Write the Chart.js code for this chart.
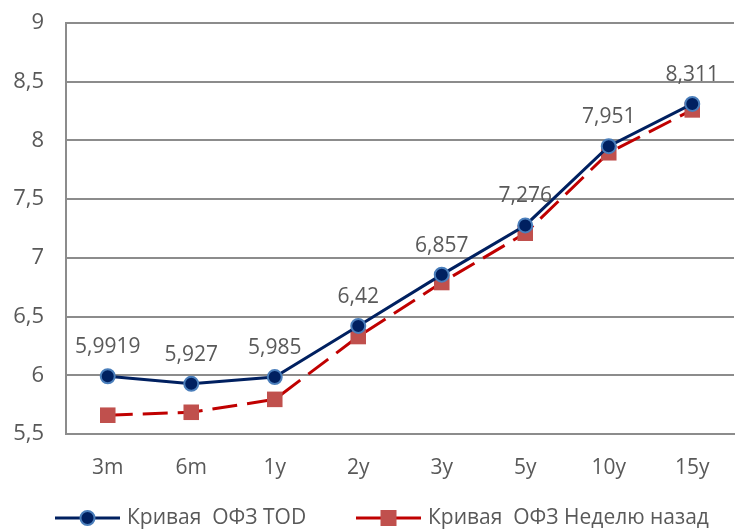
<!DOCTYPE html>
<html>
<head>
<meta charset="utf-8">
<script src="https://cdn.jsdelivr.net/npm/chart.js@4"></script>
<style>
  html, body { margin: 0; padding: 0; background: #fff; }
  #wrap { width: 745px; height: 530px; }
</style>
</head>
<body>
<div id="wrap"><canvas id="curve"></canvas></div>
<script>
const categories = ["3m", "6m", "1y", "2y", "3y", "5y", "10y", "15y"];
const todValues = [5.9919, 5.927, 5.985, 6.42, 6.857, 7.276, 7.951, 8.311];
const weekAgoValues = [5.66, 5.685, 5.795, 6.33, 6.79, 7.21, 7.895, 8.26];
const todLabel = "Кривая  ОФЗ TOD";
const weekAgoLabel = "Кривая  ОФЗ Неделю назад";

const FONT = "'Open Sans', sans-serif";
const TEXT = "#595959";
const GRID = "#8c8c8c";
const NAVY = "#002060";
const RED = "#c00000";

const fmt = (v) => String(v).replace(".", ",");

// value labels above the TOD points
const valueLabels = {
  id: "valueLabels",
  afterDatasetsDraw(chart) {
    const ctx = chart.ctx;
    const meta = chart.getDatasetMeta(0);
    ctx.save();
    ctx.font = "21px " + FONT;
    ctx.fillStyle = TEXT;
    ctx.textAlign = "center";
    ctx.textBaseline = "middle";
    meta.data.forEach((pt, i) => {
      ctx.fillText(fmt(todValues[i]), pt.x, pt.y - 29);
    });
    ctx.restore();
  },
};

// legend drawn by hand: line + marker + text, as in the original
const lineLegend = {
  id: "lineLegend",
  afterDraw(chart) {
    const ctx = chart.ctx;
    const y = 518;
    const items = [
      { x: 55, color: NAVY, text: todLabel, marker: "circle" },
      { x: 356, color: RED, text: weekAgoLabel, marker: "rect" },
    ];
    ctx.save();
    ctx.font = "21px " + FONT;
    ctx.textBaseline = "middle";
    items.forEach((it) => {
      ctx.strokeStyle = it.color;
      ctx.lineWidth = 3;
      ctx.beginPath();
      ctx.moveTo(it.x, y);
      ctx.lineTo(it.x + 65, y);
      ctx.stroke();
      const cx = it.x + 32.5;
      if (it.marker === "circle") {
        ctx.beginPath();
        ctx.arc(cx, y, 7, 0, Math.PI * 2);
        ctx.fillStyle = NAVY;
        ctx.fill();
        ctx.lineWidth = 2;
        ctx.strokeStyle = "#4a7ebb";
        ctx.stroke();
      } else {
        ctx.fillStyle = "#c0504d";
        ctx.fillRect(cx - 8, y - 8, 16, 16);
      }
      ctx.fillStyle = TEXT;
      ctx.fillText(it.text, it.x + 72, y);
    });
    ctx.restore();
  },
};

new Chart(document.getElementById("curve"), {
  type: "line",
  data: {
    labels: categories,
    datasets: [
      {
        label: todLabel,
        data: todValues,
        borderColor: NAVY,
        borderWidth: 3,
        pointStyle: "circle",
        pointRadius: 7,
        pointBackgroundColor: NAVY,
        pointBorderColor: "#4a7ebb",
        pointBorderWidth: 2,
        tension: 0,
        order: 0,
      },
      {
        label: weekAgoLabel,
        data: weekAgoValues,
        borderColor: RED,
        borderWidth: 3,
        borderDash: [25, 10],
        pointStyle: "rect",
        pointRadius: 11,
        pointBackgroundColor: "#c0504d",
        pointBorderColor: "#c0504d",
        pointBorderWidth: 0,
        tension: 0,
        order: 1,
      },
    ],
  },
  options: {
    responsive: true,
    maintainAspectRatio: false,
    animation: false,
    layout: { padding: { top: 23, right: 0, left: 0, bottom: 51 } },
    plugins: {
      tooltip: { enabled: false },
      legend: { display: false },
    },
    scales: {
      x: {
        offset: true,
        afterFit: (axis) => { axis.height = 45; axis.paddingLeft = 0; axis.paddingRight = 0; },
        grid: { display: false, drawTicks: false },
        border: { display: true, color: GRID, width: 2 },
        ticks: { color: TEXT, font: { family: FONT, size: 21 }, padding: 21 },
      },
      y: {
        min: 5.5,
        max: 9,
        afterFit: (axis) => { axis.width = 66; axis.paddingTop = 0; axis.paddingBottom = 0; },
        grid: { color: GRID, lineWidth: 2, drawTicks: false },
        border: { display: true, color: GRID, width: 2 },
        ticks: {
          stepSize: 0.5,
          color: TEXT,
          font: { family: FONT, size: 22 },
          padding: 22,
          callback: (v) => fmt(v),
        },
      },
    },
  },
  plugins: [valueLabels, lineLegend],
});
</script>
</body>
</html>
